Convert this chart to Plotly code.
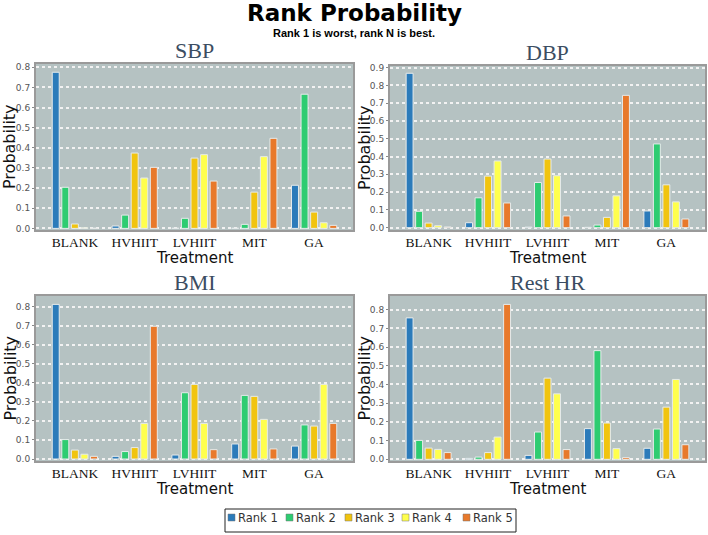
import plotly.graph_objects as go

treatments = ["BLANK", "HVHIIT", "LVHIIT", "MIT", "GA"]
rank_names = ["Rank 1", "Rank 2", "Rank 3", "Rank 4", "Rank 5"]
rank_colors = ["#2b7bba", "#2ecc71", "#f1c40f", "#ffff4d", "#e8792b"]

# values[rank][treatment]
sbp = [
    [0.775, 0.012, 0.001, 0.001, 0.214],
    [0.204, 0.066, 0.050, 0.020, 0.666],
    [0.022, 0.374, 0.349, 0.180, 0.081],
    [0.003, 0.250, 0.366, 0.356, 0.028],
    [0.001, 0.303, 0.235, 0.447, 0.015],
]
dbp = [
    [0.868, 0.028, 0.003, 0.002, 0.094],
    [0.092, 0.168, 0.254, 0.015, 0.471],
    [0.026, 0.290, 0.386, 0.058, 0.241],
    [0.011, 0.375, 0.292, 0.179, 0.145],
    [0.004, 0.139, 0.066, 0.744, 0.049],
]
bmi = [
    [0.812, 0.014, 0.021, 0.079, 0.068],
    [0.102, 0.039, 0.348, 0.334, 0.179],
    [0.047, 0.060, 0.392, 0.329, 0.173],
    [0.025, 0.187, 0.187, 0.208, 0.392],
    [0.014, 0.697, 0.049, 0.053, 0.187],
]
rest_hr = [
    [0.756, 0.005, 0.021, 0.164, 0.059],
    [0.101, 0.012, 0.146, 0.581, 0.162],
    [0.060, 0.036, 0.434, 0.194, 0.279],
    [0.053, 0.119, 0.350, 0.057, 0.427],
    [0.036, 0.828, 0.052, 0.009, 0.078],
]
panel_titles = ["SBP", "DBP", "BMI", "Rest HR"]
panel_data = [sbp, dbp, bmi, rest_hr]
y_ranges = [[-0.008, 0.816], [-0.013, 0.909], [-0.0105, 0.856], [-0.009, 0.873]]
y_dtick = 0.1

W, H = 708, 535
# pixel boxes: (x0, x1, ytop, ybottom)
boxes = [(36, 353, 64, 230), (390, 705, 66, 230), (36, 353, 296, 461), (390, 705, 296, 461)]

fig = go.Figure()
layout = dict(
    width=W, height=H, margin=dict(l=0, r=0, t=0, b=0, autoexpand=False),
    paper_bgcolor="white", barmode="group", bargap=0.2, bargroupgap=0.27,
    font=dict(family="DejaVu Sans", color="#222"),
    showlegend=False,
)
annotations = []
shapes = []
for p, (title, data, yr, box) in enumerate(zip(panel_titles, panel_data, y_ranges, boxes)):
    sfx = "" if p == 0 else str(p + 1)
    x0, x1, yt, yb = box
    for r in range(5):
        fig.add_trace(go.Bar(
            x=treatments, y=data[r], name=rank_names[r],
            marker=dict(color=rank_colors[r], line=dict(color="#e6ebeb", width=1)),
            xaxis="x" + sfx, yaxis="y" + sfx,
        ))
    layout["xaxis" + sfx] = dict(
        domain=[x0 / W, x1 / W], anchor="y" + sfx, range=[-0.65, 4.65], automargin=False,
        showline=True, linecolor="#9a9a9a", linewidth=2, mirror=True,
        ticks="", ticklabelstandoff=-1,
        tickfont=dict(family="Liberation Serif", size=13.5, color="#111"),
        showgrid=False, fixedrange=True,
    )
    layout["yaxis" + sfx] = dict(
        domain=[1 - yb / H, 1 - yt / H], anchor="x" + sfx, range=yr, dtick=y_dtick, automargin=False,
        tickformat=".1f", showline=True, linecolor="#9a9a9a", linewidth=2, mirror=True,
        ticks="outside", ticklen=2, tickcolor="#888",
        tickfont=dict(family="DejaVu Sans", size=9, color="#555"),
        showgrid=True, gridcolor="#f2f2f2", griddash="dot", gridwidth=1.5, zeroline=False,
        fixedrange=True,
    )
    cx = (x0 + x1) / 2
    annotations.append(dict(text=title, x=cx / W, y=1 - (yt + 1) / H, xref="paper", yref="paper",
                            xanchor="center", yanchor="bottom", showarrow=False,
                            font=dict(family="Liberation Serif", size=22, color="#3b4d62")))
    annotations.append(dict(text="Probability", x=(x0 - 26) / W, y=1 - ((yt + yb) / 2) / H,
                            xref="paper", yref="paper", xanchor="center", yanchor="middle",
                            textangle=-90, showarrow=False,
                            font=dict(family="DejaVu Sans", size=16, color="#111")))
    annotations.append(dict(text="Treatment", x=cx / W, y=1 - (yb + 28) / H,
                            xref="paper", yref="paper", xanchor="center", yanchor="middle",
                            showarrow=False, font=dict(family="DejaVu Sans", size=15, color="#111")))

annotations.append(dict(text="<b>Rank Probability</b>", x=0.5, y=1 - 13 / H, xref="paper", yref="paper",
                        xanchor="center", yanchor="middle", showarrow=False,
                        font=dict(family="DejaVu Sans", size=23, color="#000")))
annotations.append(dict(text="<b>Rank 1 is worst, rank N is best.</b>", x=0.5, y=1 - 33 / H,
                        xref="paper", yref="paper", xanchor="center", yanchor="middle", showarrow=False,
                        font=dict(family="Liberation Sans", size=11, color="#000")))

# manual legend (box + swatches + labels)
leg_x0, leg_x1, leg_y0, leg_y1 = 225, 516, 509, 532
shapes.append(dict(type="rect", xref="paper", yref="paper", x0=leg_x0 / W, x1=leg_x1 / W,
                   y0=1 - leg_y1 / H, y1=1 - leg_y0 / H, line=dict(color="#222", width=1),
                   fillcolor="white"))
entry_starts = [228, 286, 345, 402, 463]
for name, color, sx in zip(rank_names, rank_colors, entry_starts):
    shapes.append(dict(type="rect", xref="paper", yref="paper", x0=sx / W, x1=(sx + 7) / W,
                       y0=1 - 521 / H, y1=1 - 514 / H, line=dict(color="#777", width=0.5),
                       fillcolor=color))
    annotations.append(dict(text=name, x=(sx + 8) / W, y=1 - 518 / H, xref="paper", yref="paper",
                            xanchor="left", yanchor="middle", showarrow=False,
                            font=dict(family="DejaVu Sans", size=11.5, color="#333")))

layout["annotations"] = annotations
layout["shapes"] = shapes
layout["plot_bgcolor"] = "#b5c2c2"
fig.update_layout(**layout)
fig.write_html("out.html", config={"displayModeBar": False},
               post_script="document.body.style.margin='0';document.body.style.overflow='hidden';")
